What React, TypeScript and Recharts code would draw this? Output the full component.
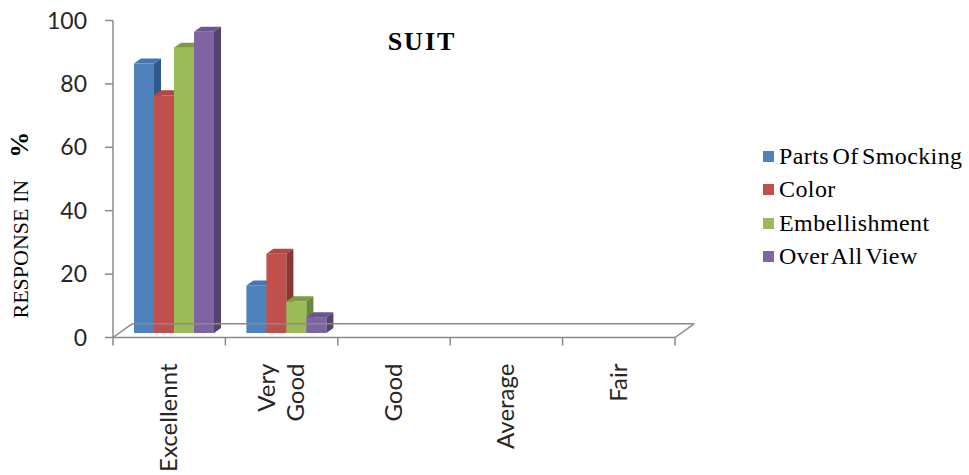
import React from "react";
import { Bar, ComposedChart, ReferenceLine, XAxis, YAxis } from "recharts";

const CATEGORIES = ["Excellennt", "Very Good", "Good", "Average", "Fair"];
const PARTS_OF_SMOCKING = [85, 15, 0, 0, 0];
const COLOR = [75, 25, 0, 0, 0];
const EMBELLISHMENT = [90, 10, 0, 0, 0];
const OVER_ALL_VIEW = [95, 5, 0, 0, 0];
const Y_TICKS = [0, 20, 40, 60, 80, 100];

const SERIES = [
  { key: "parts", name: "Parts Of Smocking", values: PARTS_OF_SMOCKING, front: "#4F81BD", top: "#4576B3", side: "#2F5A8C" },
  { key: "color", name: "Color", values: COLOR, front: "#C0504D", top: "#B44744", side: "#8C3634" },
  { key: "emb", name: "Embellishment", values: EMBELLISHMENT, front: "#9BBB59", top: "#7E9B42", side: "#6B883A" },
  { key: "view", name: "Over All View", values: OVER_ALL_VIEW, front: "#8064A2", top: "#6D5490", side: "#55426F" },
];

const data = CATEGORIES.map((c, i) => {
  const row: Record<string, string | number> = { name: c, idx: i };
  SERIES.forEach((s) => (row[s.key] = s.values[i]));
  return row;
});

// 3d look: depth of bars (px) and floor depth (in data units of the floor axes)
const DEPTH_X = 7;
const DEPTH_Y = 5;
const FLOOR_DX = 0.17;
const FLOOR_DY = 4.3;
const AXIS = "#8a8a8a";
// floor axis runs over category index, edges half a category outside
const F0 = -0.5;
const F1 = CATEGORIES.length - 0.5;

const bar3d = (s: (typeof SERIES)[number]) => (p: any) => {
  const { x, y, width, height } = p;
  if (!height || height <= 0) return <g />;
  const fx = x + 5;
  const fy = y - 4.5;
  const w = width;
  const h = height;
  return (
    <g>
      <rect x={fx} y={fy} width={w} height={h} fill={s.front} />
      <polygon
        points={`${fx},${fy} ${fx + DEPTH_X},${fy - DEPTH_Y} ${fx + w + DEPTH_X},${fy - DEPTH_Y} ${fx + w},${fy}`}
        fill={s.top}
      />
      <polygon
        points={`${fx + w},${fy} ${fx + w + DEPTH_X},${fy - DEPTH_Y} ${fx + w + DEPTH_X},${fy + h - DEPTH_Y} ${fx + w},${fy + h}`}
        fill={s.side}
      />
    </g>
  );
};

function CategoryTick(props: any) {
  const { x, y, payload, index, width, visibleTicksCount } = props;
  const band = width && visibleTicksCount ? width / visibleTicksCount : 112.4;
  const lines = String(payload.value).split(" ");
  const step = 29;
  return (
    <g>
      <line x1={x - band / 2} x2={x - band / 2} y1={y} y2={y + 8} stroke={AXIS} strokeWidth={1.5} />
      {index === visibleTicksCount - 1 && (
        <line x1={x + band / 2} x2={x + band / 2} y1={y} y2={y + 8} stroke={AXIS} strokeWidth={1.5} />
      )}
      <text
        transform={`translate(${x},${y}) rotate(-90)`}
        textAnchor="end"
        fontFamily="Lato"
        fontSize={24}
        fill="#262626"
      >
        {lines.map((l, i) => (
          <tspan key={i} x={-26} y={8 + (i - (lines.length - 1) / 2) * step}>
            {l}
          </tspan>
        ))}
      </text>
    </g>
  );
}

function YTitle(props: any) {
  const vb = props.viewBox || { x: 0, y: 20, width: 113, height: 317 };
  return (
    <text
      transform={`translate(${vb.x + 28},${vb.y + vb.height - 19}) rotate(-90)`}
      fontFamily="Liberation Serif"
      fill="#000"
    >
      <tspan fontSize={22}>RESPONSE IN</tspan>
      <tspan fontSize={26} fontWeight="bold" dx={22}>%</tspan>
    </text>
  );
}

export default function App() {
  return (
    <div style={{ position: "relative", width: 969, height: 475, background: "#fff" }}>
      <style>{"body{margin:0}"}</style>
      <ComposedChart
        width={969}
        height={475}
        data={data}
        barSize={20}
        barGap={0}
        margin={{ top: 20.5, right: 294, bottom: 7.5, left: 0 }}
      >
        <XAxis
          xAxisId="cat"
          dataKey="name"
          height={130}
          interval={0}
          tickSize={0}
          tickMargin={0}
          tickLine={false}
          axisLine={{ stroke: AXIS, strokeWidth: 1.5 }}
          tick={<CategoryTick />}
        />
        <XAxis xAxisId="floor" dataKey="idx" type="number" domain={[F0, F1]} allowDataOverflow hide />
        <YAxis
          width={113}
          domain={[0, 100]}
          ticks={Y_TICKS}
          interval={0}
          tickSize={8}
          tickMargin={18}
          axisLine={{ stroke: AXIS, strokeWidth: 1.5 }}
          tickLine={{ stroke: AXIS, strokeWidth: 1.5 }}
          tick={{ fill: "#262626", fontSize: 23, fontFamily: "Lato" }}
          label={{ content: <YTitle /> }}
        />
        <ReferenceLine
          xAxisId="floor"
          ifOverflow="visible"
          segment={[
            { x: F0 + FLOOR_DX, y: FLOOR_DY },
            { x: F1 + FLOOR_DX, y: FLOOR_DY },
          ]}
          stroke={AXIS}
          strokeWidth={1.5}
        />
        <ReferenceLine
          xAxisId="floor"
          ifOverflow="visible"
          segment={[
            { x: F0, y: 0 },
            { x: F0 + FLOOR_DX, y: FLOOR_DY },
          ]}
          stroke={AXIS}
          strokeWidth={1.5}
        />
        <ReferenceLine
          xAxisId="floor"
          ifOverflow="visible"
          segment={[
            { x: F1, y: 0 },
            { x: F1 + FLOOR_DX, y: FLOOR_DY },
          ]}
          stroke={AXIS}
          strokeWidth={1.5}
        />
        {SERIES.map((s) => (
          <Bar
            key={s.key}
            xAxisId="cat"
            dataKey={s.key}
            name={s.name}
            fill={s.front}
            shape={bar3d(s)}
            isAnimationActive={false}
          />
        ))}
      </ComposedChart>
      <div
        style={{
          position: "absolute",
          left: 372,
          top: 27,
          width: 100,
          textAlign: "center",
          fontFamily: "Liberation Serif",
          fontWeight: "bold",
          fontSize: 26,
          letterSpacing: 2,
          lineHeight: "30px",
        }}
      >
        SUIT
      </div>
      <div style={{ position: "absolute", left: 763, top: 140 }}>
        {SERIES.map((s) => (
          <div
            key={s.key}
            style={{ display: "flex", alignItems: "center", height: 33.3, whiteSpace: "nowrap" }}
          >
            <span style={{ width: 11, height: 11, background: s.front, marginRight: 5, display: "inline-block" }} />
            <span
              style={{
                fontFamily: "Liberation Serif",
                fontSize: 24,
                color: "#000",
                wordSpacing: -3,
                letterSpacing: 0.4,
              }}
            >
              {s.name}
            </span>
          </div>
        ))}
      </div>
    </div>
  );
}
